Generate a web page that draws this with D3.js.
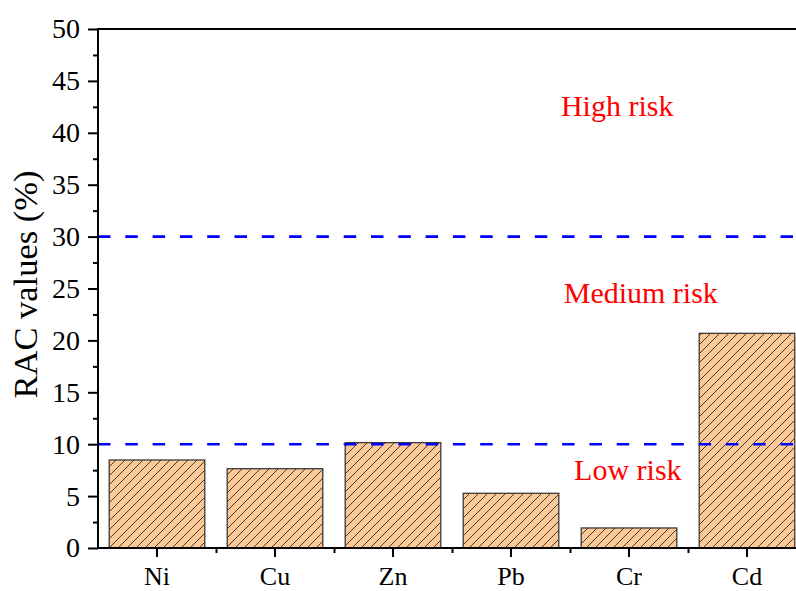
<!DOCTYPE html>
<html><head><meta charset="utf-8">
<script src="https://cdn.jsdelivr.net/npm/d3@7"></script>
<style>html,body{margin:0;padding:0;background:#fff;overflow:hidden}</style>
</head><body>
<svg id="chart" width="796" height="591"></svg>
<script>
const categories = ["Ni", "Cu", "Zn", "Pb", "Cr", "Cd"];
const racValues = [8.48, 7.64, 10.15, 5.27, 1.93, 20.68];
const yTicks = [0, 5, 10, 15, 20, 25, 30, 35, 40, 45, 50];
const yMinorTicks = [2.5, 7.5, 12.5, 17.5, 22.5, 27.5, 32.5, 37.5, 42.5, 47.5];
const thresholds = [10, 30];
const riskLabels = ["High risk", "Medium risk", "Low risk"];
const riskLabelY = [41.6, 23.6, 6.55];
const riskLabelX = [3.9, 4.1, 3.99];

const svg = d3.select("#chart");
const mLeft = 98, mTop = 29, mBottom = 548, rightExt = 806;
const font = "'Liberation Serif','Times New Roman',serif";

const x = d3.scaleBand().domain(categories).range([mLeft, rightExt]).paddingInner(0.19).paddingOuter(0.095);
const xi = d3.scaleLinear().domain([-0.5, categories.length - 0.5]).range([mLeft, rightExt]);
const y = d3.scaleLinear().domain([0, 50]).range([mBottom, mTop]);

const defs = svg.append("defs");
const pat = defs.append("pattern").attr("id", "hatch").attr("patternUnits", "userSpaceOnUse")
  .attr("width", 9).attr("height", 9);
pat.append("rect").attr("width", 9).attr("height", 9).attr("fill", "#FBC896");
pat.append("path").attr("d", "M-1,10 L10,-1 M-5.5,5.5 L5.5,-5.5 M3.5,14.5 L14.5,3.5")
  .attr("stroke", "#2a2a2a").attr("stroke-width", 0.9).attr("fill", "none");

// bars
svg.append("g").selectAll("rect").data(categories).join("rect")
  .attr("x", d => x(d)).attr("width", x.bandwidth())
  .attr("y", (d, i) => y(racValues[i])).attr("height", (d, i) => y(0) - y(racValues[i]))
  .attr("fill", "url(#hatch)").attr("stroke", "#3a3a3a").attr("stroke-width", 1.3);

// threshold lines
svg.append("g").selectAll("line").data(thresholds).join("line")
  .attr("x1", mLeft).attr("x2", 796).attr("y1", d => y(d)).attr("y2", d => y(d))
  .attr("stroke", "#0000FF").attr("stroke-width", 2.6).attr("stroke-dasharray", "12.5,14.8");

// risk labels
svg.append("g").selectAll("text").data(riskLabels).join("text")
  .attr("x", (d, i) => xi(riskLabelX[i])).attr("y", (d, i) => y(riskLabelY[i]))
  .attr("text-anchor", "middle").attr("fill", "#FF0000")
  .style("font-family", font).style("font-size", "30px").text(d => d);

// y axis
const yAxis = svg.append("g").attr("transform", `translate(${mLeft},0)`)
  .call(d3.axisLeft(y).tickValues(yTicks).tickSize(10).tickPadding(8).tickFormat(d3.format("d")));
yAxis.select(".domain").remove();
yAxis.selectAll(".tick line").attr("stroke", "#000").attr("stroke-width", 2);
yAxis.selectAll("text").style("font-family", font).style("font-size", "28px").attr("fill", "#000");
const yMinor = svg.append("g").attr("transform", `translate(${mLeft},0)`)
  .call(d3.axisLeft(y).tickValues(yMinorTicks).tickSize(5).tickFormat(""));
yMinor.select(".domain").remove();
yMinor.selectAll(".tick line").attr("stroke", "#000").attr("stroke-width", 2);

// x axis
const xAxis = svg.append("g").attr("transform", `translate(0,${mBottom})`)
  .call(d3.axisBottom(x).tickSize(9).tickPadding(9.5));
xAxis.select(".domain").remove();
xAxis.selectAll(".tick line").attr("stroke", "#000").attr("stroke-width", 2);
xAxis.selectAll("text").style("font-family", font).style("font-size", "26px").attr("fill", "#000");
const xMinorVals = d3.range(1, categories.length).map(i => i - 0.5);
const xMinor = svg.append("g").attr("transform", `translate(0,${mBottom})`)
  .call(d3.axisBottom(xi).tickValues(xMinorVals).tickSize(5).tickFormat(""));
xMinor.select(".domain").remove();
xMinor.selectAll(".tick line").attr("stroke", "#000").attr("stroke-width", 2);

// frame lines
svg.append("line").attr("x1", mLeft).attr("x2", mLeft).attr("y1", mTop - 1).attr("y2", mBottom + 1)
  .attr("stroke", "#000").attr("stroke-width", 2);
svg.append("line").attr("x1", mLeft - 1).attr("x2", 796).attr("y1", mBottom).attr("y2", mBottom)
  .attr("stroke", "#000").attr("stroke-width", 2);
svg.append("line").attr("x1", mLeft - 1).attr("x2", 796).attr("y1", mTop).attr("y2", mTop)
  .attr("stroke", "#000").attr("stroke-width", 2);

// y title
svg.append("text").attr("transform", `translate(37,284.5) rotate(-90)`)
  .attr("text-anchor", "middle").style("font-family", font).style("font-size", "34.5px")
  .attr("fill", "#000").text("RAC values (%)");
</script>
</body></html>
